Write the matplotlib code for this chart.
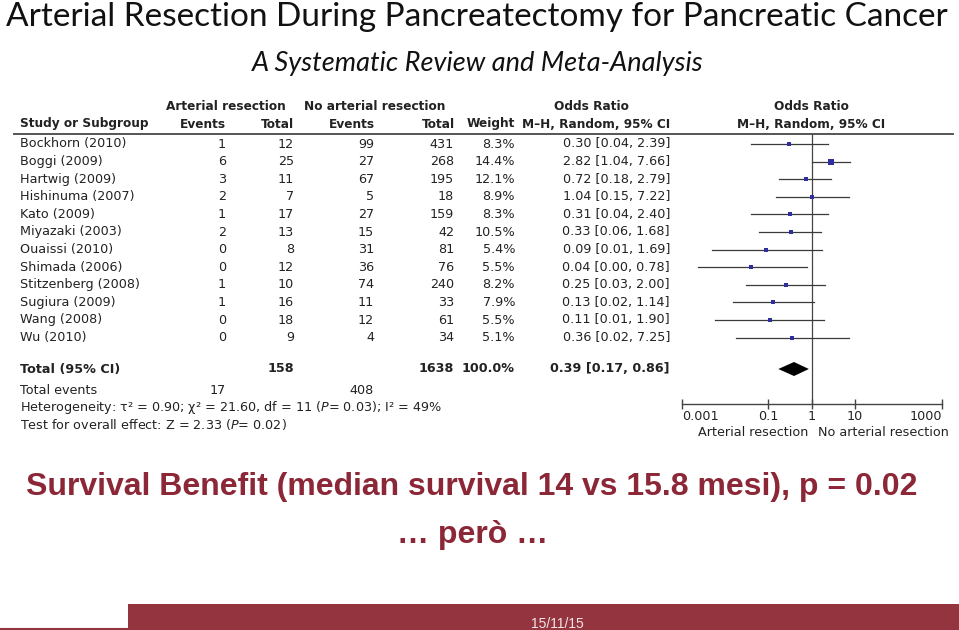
import matplotlib
matplotlib.use('Agg')
import matplotlib.pyplot as plt
from matplotlib import font_manager
from matplotlib.patches import Rectangle
from matplotlib.ticker import NullLocator
import numpy as np

# Forest plot data (Arterial resection vs no arterial resection)
studies = ['Bockhorn (2010)', 'Boggi (2009)', 'Hartwig (2009)', 'Hishinuma (2007)',
           'Kato (2009)', 'Miyazaki (2003)', 'Ouaissi (2010)', 'Shimada (2006)',
           'Stitzenberg (2008)', 'Sugiura (2009)', 'Wang (2008)', 'Wu (2010)']
ar_events = [1, 6, 3, 2, 1, 2, 0, 0, 1, 1, 0, 0]
ar_total = [12, 25, 11, 7, 17, 13, 8, 12, 10, 16, 18, 9]
no_events = [99, 27, 67, 5, 27, 15, 31, 36, 74, 11, 12, 4]
no_total = [431, 268, 195, 18, 159, 42, 81, 76, 240, 33, 61, 34]
weights = [8.3, 14.4, 12.1, 8.9, 8.3, 10.5, 5.4, 5.5, 8.2, 7.9, 5.5, 5.1]
or_est = [0.30, 2.82, 0.72, 1.04, 0.31, 0.33, 0.09, 0.04, 0.25, 0.13, 0.11, 0.36]
ci_low = [0.04, 1.04, 0.18, 0.15, 0.04, 0.06, 0.005, 0.0024, 0.03, 0.015, 0.006, 0.018]
ci_high = [2.39, 7.66, 2.79, 7.22, 2.40, 1.68, 1.69, 0.78, 2.00, 1.14, 1.90, 7.25]
or_text = ['0.30 [0.04, 2.39]', '2.82 [1.04, 7.66]', '0.72 [0.18, 2.79]', '1.04 [0.15, 7.22]',
           '0.31 [0.04, 2.40]', '0.33 [0.06, 1.68]', '0.09 [0.01, 1.69]', '0.04 [0.00, 0.78]',
           '0.25 [0.03, 2.00]', '0.13 [0.02, 1.14]', '0.11 [0.01, 1.90]', '0.36 [0.02, 7.25]']
total_or, total_lo, total_hi = 0.39, 0.17, 0.86
total_ar, total_no = 158, 1638
events_ar, events_no = 17, 408
axis_ticks = [0.001, 0.1, 1, 10, 1000]
axis_labels = ['0.001', '0.1', '1', '10', '1000']

available = {f.name for f in font_manager.fontManager.ttflist}
narrow = 'Liberation Sans Narrow' if 'Liberation Sans Narrow' in available else 'Liberation Sans'

maroon = '#8c2737'
ink = '#222222'
fs = 9.2

fig = plt.figure(figsize=(9.59, 6.30), dpi=100)
bg = fig.add_axes([0, 0, 1, 1])
bg.set_xlim(0, 959)
bg.set_ylim(630, 0)
bg.axis('off')

# Titles
bg.text(477, 17, 'Arterial Resection During Pancreatectomy for Pancreatic Cancer',
        ha='center', va='center', fontsize=24, family='Lato', color='#111111')
bg.text(478, 63, 'A Systematic Review and Meta-Analysis', ha='center', va='center',
        fontsize=19.5, family='Lato', style='italic', color='#111111')

# Table header
hb = dict(fontsize=8.7, weight='bold', color=ink, va='center')
bg.text(226, 106, 'Arterial resection', ha='center', **hb)
bg.text(375, 106, 'No arterial resection', ha='center', **hb)
bg.text(591, 106, 'Odds Ratio', ha='center', **hb)
bg.text(811, 106, 'Odds Ratio', ha='center', **hb)
bg.text(20, 124, 'Study or Subgroup', ha='left', **hb)
bg.text(203, 124, 'Events', ha='center', **hb)
bg.text(294, 124, 'Total', ha='right', **hb)
bg.text(352, 124, 'Events', ha='center', **hb)
bg.text(455, 124, 'Total', ha='right', **hb)
bg.text(515, 124, 'Weight', ha='right', **hb)
bg.text(596, 124, 'M\u2013H, Random, 95% CI', ha='center', **hb)
bg.text(811, 124, 'M\u2013H, Random, 95% CI', ha='center', **hb)
bg.plot([14, 953], [134, 134], color='#555555', lw=1.4)

row_y = 144 + np.arange(len(studies)) * 17.6
total_y = 369

tb = dict(fontsize=fs, color=ink, va='center')
for i, y in enumerate(row_y):
    bg.text(20, y, studies[i], ha='left', **tb)
    bg.text(226, y, str(ar_events[i]), ha='right', **tb)
    bg.text(294, y, str(ar_total[i]), ha='right', **tb)
    bg.text(374, y, str(no_events[i]), ha='right', **tb)
    bg.text(454, y, str(no_total[i]), ha='right', **tb)
    bg.text(515, y, f'{weights[i]:.1f}%', ha='right', **tb)
    bg.text(670, y, or_text[i], ha='right', **tb)

tbb = dict(tb, weight='bold')
bg.text(20, total_y, 'Total (95% CI)', ha='left', **tbb)
bg.text(294, total_y, str(total_ar), ha='right', **tbb)
bg.text(454, total_y, str(total_no), ha='right', **tbb)
bg.text(515, total_y, '100.0%', ha='right', **tbb)
bg.text(670, total_y, f'{total_or:.2f} [{total_lo:.2f}, {total_hi:.2f}]', ha='right', **tbb)
bg.text(20, 390, 'Total events', ha='left', **tb)
bg.text(226, 390, str(events_ar), ha='right', **tb)
bg.text(374, 390, str(events_no), ha='right', **tb)
bg.text(20, 408, 'Heterogeneity: \u03c4\u00b2 = 0.90; \u03c7\u00b2 = 21.60, df = 11 ($\\it{P}$= 0.03); I\u00b2 = 49%',
        ha='left', **tb)
bg.text(20, 424, 'Test for overall effect: Z = 2.33 ($\\it{P}$= 0.02)', ha='left', **tb)

# Forest plot panel
x0, x1, ytop, ybot = 681.7, 941.7, 134, 404
ax = fig.add_axes([x0 / 959, (630 - ybot) / 630, (x1 - x0) / 959, (ybot - ytop) / 630])
ax.set_xscale('log')
ax.set_xlim(0.001, 1000)
ax.set_ylim(ybot, ytop)
ax.patch.set_alpha(0)
for s in ['left', 'right', 'top']:
    ax.spines[s].set_visible(False)
ax.spines['bottom'].set_color('#444444')
ax.spines['bottom'].set_linewidth(1)
ax.axvline(1, color='#444444', lw=0.9)
for i, y in enumerate(row_y):
    ax.plot([ci_low[i], ci_high[i]], [y, y], color='#3a3a3a', lw=0.9)
    ax.plot(or_est[i], y, marker='s', ms=2.0 + 0.12 * weights[i], color='#2e2e9c', mew=0)
ax.fill([total_lo, total_or, total_hi, total_or], [total_y, total_y - 7, total_y, total_y + 7],
        color='black', lw=0)
ax.set_xticks(axis_ticks)
ax.set_xticklabels(axis_labels)
ax.xaxis.set_minor_locator(NullLocator())
ax.set_yticks([])
ax.tick_params(axis='x', direction='inout', length=7, width=1, color='#444444',
               labelsize=fs, labelcolor=ink, pad=1)
tl = ax.get_xticklabels()
tl[0].set_ha('left')
tl[-1].set_ha('right')
bg.text(808, 432, 'Arterial resection', ha='right', **tb)
bg.text(818, 432, 'No arterial resection', ha='left', **tb)

# Slide text
bg.text(472, 487, 'Survival Benefit (median survival 14 vs 15.8 mesi), p = 0.02',
        ha='center', va='center', fontsize=23, family=narrow, weight='bold', color=maroon)
bg.text(473, 535, '\u2026 per\u00f2 \u2026', ha='center', va='center', fontsize=23,
        family=narrow, weight='bold', color=maroon)

# Footer band
bg.add_patch(Rectangle((128, 604), 831, 26, color='#94343f', lw=0))
bg.plot([0, 128], [629, 629], color='#94343f', lw=1.5)
bg.text(557, 624, '15/11/15', ha='center', va='center', fontsize=10,
        family='Liberation Sans', color='#f3e6e8')

fig.savefig('out.png', dpi=100)
